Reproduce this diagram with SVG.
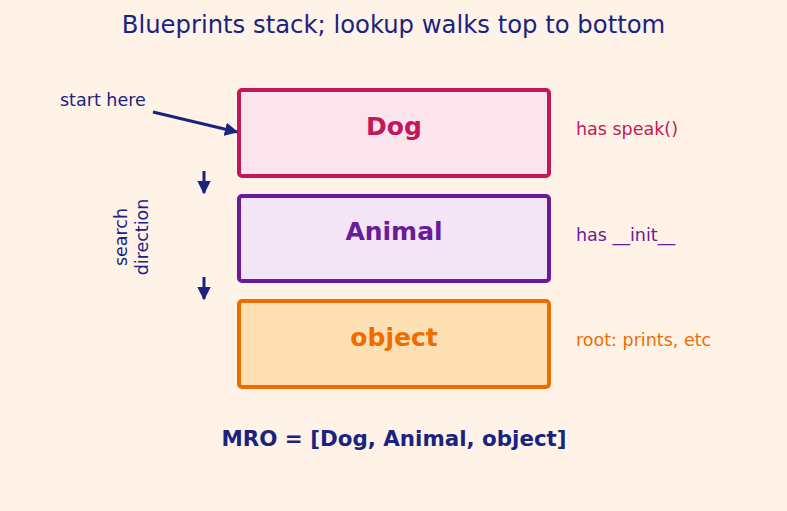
<svg xmlns="http://www.w3.org/2000/svg" width="787" height="511" viewBox="0 0 787 511">
<style>
text{font-family:"DejaVu Sans",sans-serif}
.box{stroke-width:4}
.name{font-size:25px;font-weight:bold;text-anchor:middle}
.note{font-size:17.5px}
.nav{fill:#1a237e}
.conn{stroke:#1a237e;stroke-width:3;fill:none}
</style>
<defs>
<marker id="ah" viewBox="0 0 10 10" refX="9" refY="5" markerWidth="4.5" markerHeight="4.5" orient="auto" markerUnits="strokeWidth">
<path d="M0,0 L10,5 L0,10 z" fill="#1a237e"/>
</marker>
</defs>
<rect width="787" height="511" fill="#fff3e8"/>
<text class="nav" x="393.5" y="33" font-size="24.3" text-anchor="middle">Blueprints stack; lookup walks top to bottom</text>
<g id="dog">
<rect class="box" x="239" y="90" width="310" height="86" rx="3" fill="#fce4ec" stroke="#c2185b"/>
<text class="name" x="394" y="135" fill="#c2185b">Dog</text>
<text class="note" x="576" y="135" fill="#c2185b">has speak()</text>
</g>
<g id="animal">
<rect class="box" x="239" y="196" width="310" height="85" rx="3" fill="#f3e5f5" stroke="#6a1b9a"/>
<text class="name" x="394" y="240" fill="#6a1b9a">Animal</text>
<text class="note" x="576" y="241" fill="#6a1b9a">has __init__</text>
</g>
<g id="object">
<rect class="box" x="239" y="301" width="310" height="86" rx="3" fill="#ffe0b2" stroke="#ef6c00"/>
<text class="name" x="394" y="346" fill="#ef6c00">object</text>
<text class="note" x="576" y="346" fill="#ef6c00">root: prints, etc</text>
</g>
<g id="start-label">
<text class="nav note" x="60" y="106">start here</text>
</g>
<g id="search-label">
<text class="nav note" text-anchor="middle" transform="translate(127,237) rotate(-90)">search</text>
<text class="nav note" text-anchor="middle" transform="translate(148,237) rotate(-90)">direction</text>
</g>
<g id="connectors">
<line class="conn" x1="153" y1="112" x2="237" y2="132" marker-end="url(#ah)"/>
<line class="conn" x1="204" y1="171" x2="204" y2="193" marker-end="url(#ah)"/>
<line class="conn" x1="204" y1="277" x2="204" y2="299" marker-end="url(#ah)"/>
</g>
<g id="mro">
<text class="nav" x="394" y="446" font-size="21.4" font-weight="bold" text-anchor="middle">MRO = [Dog, Animal, object]</text>
</g>
</svg>
